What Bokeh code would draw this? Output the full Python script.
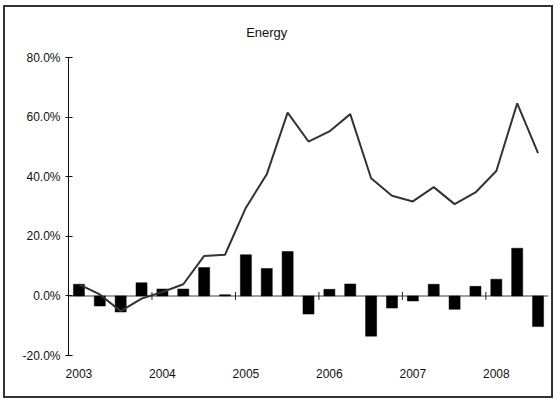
import math
from bokeh.plotting import figure
from bokeh.models import (Range1d, FixedTicker, NumeralTickFormatter, Span, ColumnDataSource,
                          LinearAxis)
from bokeh.embed import file_html
from bokeh.resources import INLINE

# ---- data ----
title_text = "Energy"
years = ["2003", "2004", "2005", "2006", "2007", "2008"]
quarters_per_year = 4
# quarterly change, percent (bars)
quarterly_change = [3.9, -3.4, -5.4, 4.4, 2.3, 2.3, 9.5, 0.4, 13.8, 9.2, 14.9, -6.1,
                    2.2, 4.0, -13.5, -4.1, -1.7, 3.9, -4.5, 3.2, 5.6, 16.0, -10.3]
# cumulative change, percent (line)
cumulative_change = [3.9, 0.5, -5.1, -0.9, 1.3, 3.9, 13.4, 13.8, 29.6, 40.8, 61.5, 51.8,
                     55.2, 61.0, 39.5, 33.6, 31.7, 36.5, 30.8, 34.7, 41.9, 64.6, 47.9]
y_ticks = [-20, 0, 20, 40, 60, 80]

n = len(quarterly_change)
src = ColumnDataSource(dict(
    x=list(range(n)),
    bar=[v / 100 for v in quarterly_change],
    line=[v / 100 for v in cumulative_change],
))

FONT = "Liberation Sans"

p = figure(
    width=546, height=389,
    x_range=Range1d(-0.5, n - 0.5),
    y_range=Range1d(y_ticks[0] / 100, y_ticks[-1] / 100),
    output_backend="svg", toolbar_location=None,
    min_border_left=63, min_border_right=3, min_border_top=50, min_border_bottom=41,
    margin=(7, 0, 0, 5),
)
p.styles = {"box-shadow": "0 0 0 2px #333333"}
p.outline_line_color = None
p.xgrid.visible = False
p.ygrid.visible = False
p.background_fill_color = "white"
p.border_fill_color = "white"

# y axis
yax = p.yaxis[0]
yax.ticker = FixedTicker(ticks=[t / 100 for t in y_ticks])
yax.formatter = NumeralTickFormatter(format="0.0%")
yax.major_label_text_font = FONT
yax.major_label_text_font_size = "12px"
yax.major_label_text_color = "#111111"
yax.axis_line_color = "#111111"
yax.axis_line_width = 1
yax.major_tick_line_color = "#111111"
yax.major_tick_in = 4
yax.major_tick_out = 3
yax.minor_tick_line_color = None
yax.major_label_standoff = 5

# x axis (labels only, at the bottom)
xax = p.below[0]
label_pos = [i * quarters_per_year for i in range(len(years))]
xax.ticker = FixedTicker(ticks=label_pos)
xax.major_label_overrides = {pos: yr for pos, yr in zip(label_pos, years)}
xax.axis_line_color = None
xax.major_tick_line_color = None
xax.minor_tick_line_color = None
xax.major_tick_in = 0
xax.major_tick_out = 0
xax.major_label_standoff = 13
xax.major_label_text_font = FONT
xax.major_label_text_font_size = "12px"
xax.major_label_text_color = "#111111"

# title: drawn as a label-only axis above the plot area (centred over the chart box)
title_pos = (n - 1) / 2 - 2
tax = LinearAxis(ticker=FixedTicker(ticks=[title_pos]),
                 major_label_overrides={title_pos: title_text})
tax.axis_line_color = None
tax.major_tick_line_color = None
tax.minor_tick_line_color = None
tax.major_tick_in = 0
tax.major_tick_out = 0
tax.major_label_standoff = 18
tax.major_label_text_font = FONT
tax.major_label_text_font_size = "13px"
tax.major_label_text_color = "#111111"
p.add_layout(tax, "above")

# zero line (category axis crossing at 0)
p.add_layout(Span(location=0, dimension="width", line_color="#808080", line_width=1.5, level="underlay"))

# bars
p.vbar(x="x", top="bar", bottom=0, width=0.53, source=src,
       fill_color="black", line_color="black", line_width=0.5)

# year separator tick marks on the zero line
boundaries = [i * quarters_per_year - 0.5 for i in range(1, len(years))]
p.scatter(x=boundaries, y=[0] * len(boundaries), marker="dash", angle=math.pi / 2,
          size=8, line_color="#222222", line_width=1)

# cumulative line
p.line(x="x", y="line", source=src, line_color="#333333", line_width=2)

open("out.html", "w").write(file_html(p, INLINE))
